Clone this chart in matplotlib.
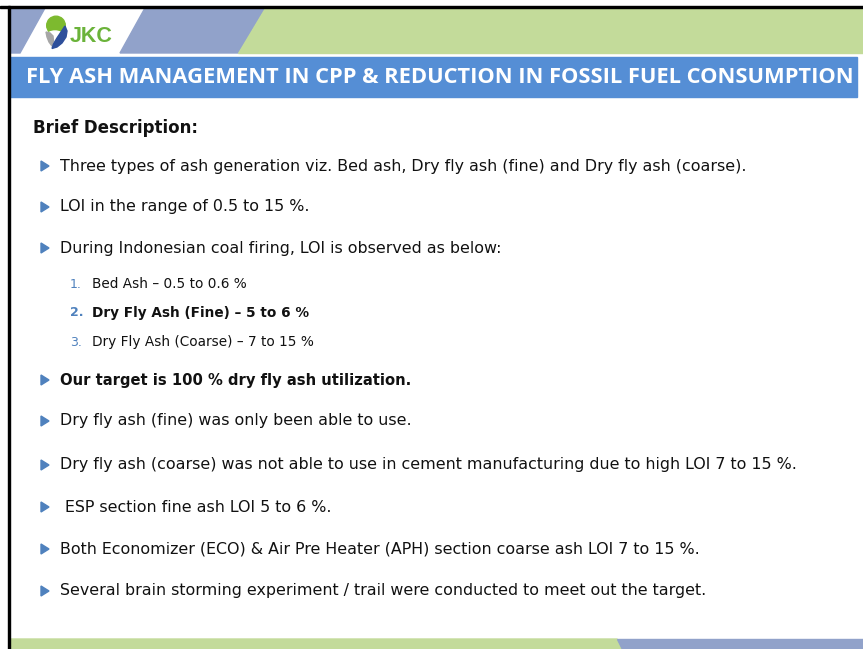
import matplotlib
matplotlib.use("Agg")
import matplotlib.pyplot as plt
from matplotlib.patches import Polygon, Rectangle, Circle, Ellipse

W, H = 863, 649

title = "FLY ASH MANAGEMENT IN CPP & REDUCTION IN FOSSIL FUEL CONSUMPTION"
heading = "Brief Description:"

bullets_top = [
    "Three types of ash generation viz. Bed ash, Dry fly ash (fine) and Dry fly ash (coarse).",
    "LOI in the range of 0.5 to 15 %.",
    "During Indonesian coal firing, LOI is observed as below:",
]
sub_items = [
    "Bed Ash \u2013 0.5 to 0.6 %",
    "Dry Fly Ash (Fine) \u2013 5 to 6 %",
    "Dry Fly Ash (Coarse) \u2013 7 to 15 %",
]
sub_bold = [False, True, False]
bullets_bottom = [
    "Our target is 100 % dry fly ash utilization.",
    "Dry fly ash (fine) was only been able to use.",
    "Dry fly ash (coarse) was not able to use in cement manufacturing due to high LOI 7 to 15 %.",
    " ESP section fine ash LOI 5 to 6 %.",
    "Both Economizer (ECO) & Air Pre Heater (APH) section coarse ash LOI 7 to 15 %.",
    "Several brain storming experiment / trail were conducted to meet out the target.",
]
bottom_bold = [True, False, False, False, False, False]

top_y = [166, 207, 248]
sub_y = [284, 313, 342]
bottom_y = [380, 421, 465, 507, 549, 591]

green = "#C3DB9A"
slate = "#91A2CA"
title_blue = "#558ED5"
bullet_blue = "#4F81BD"

fig = plt.figure(figsize=(W / 100, H / 100), dpi=100)
ax = fig.add_axes([0, 0, 1, 1])
ax.set_xlim(0, W)
ax.set_ylim(H, 0)
ax.axis("off")

# frame lines
ax.add_patch(Rectangle((0, 0), W, H, color="white", zorder=0))
ax.add_patch(Rectangle((0, 5.5), W, 2.5, color="black", zorder=5))
ax.add_patch(Rectangle((8, 5.5), 2.2, H, color="black", zorder=5))

# header stripes
ax.add_patch(Polygon([(10, 8), (45, 8), (20, 53), (10, 53)], color=slate))
ax.add_patch(Polygon([(145, 8), (265, 8), (238, 53), (120, 53)], color=slate))
ax.add_patch(Polygon([(265, 8), (W, 8), (W, 53), (238, 53)], color=green))

# title band
ax.add_patch(Rectangle((10, 57), 847, 40, color=title_blue))
ax.text(439.5, 77.5, title, color="white", fontsize=15.75, fontweight="bold",
        family="Open Sans", ha="center", va="center")

# logo
ax.add_patch(Circle((56, 25.5), 9.3, color="#7DBA2F"))
ax.add_patch(Ellipse((55, 35.5), 16, 9, color="white"))
ax.add_patch(Polygon([(46, 32), (50, 33), (53, 36), (53.5, 41), (52, 46),
                      (49, 42), (47, 37)], color="#A6A6A6"))
ax.add_patch(Polygon([(65, 26), (67, 31), (66, 37), (62, 43), (57, 47), (52, 48.5),
                      (53.5, 44), (57, 38), (61, 32)], color="#2E4F9B"))
ax.text(70, 36.5, "JKC", color="#6BB33A", fontsize=15.5, fontweight="bold",
        family="Liberation Sans", ha="left", va="center")

# body
body_font = "DejaVu Sans"
ax.text(33, 128, heading, fontsize=12, fontweight="bold", family=body_font,
        va="center", color="#111111")


def bullet(y):
    ax.add_patch(Polygon([(41, y - 5), (49, y), (41, y + 5)], color=bullet_blue))


for txt, y in zip(bullets_top, top_y):
    bullet(y)
    ax.text(60, y, txt, fontsize=11.4, family=body_font, va="center", color="#111111")

for i, (txt, y, b) in enumerate(zip(sub_items, sub_y, sub_bold)):
    ax.text(70, y, f"{i + 1}.", fontsize=9, family=body_font, va="center",
            color=bullet_blue, fontweight="bold" if b else "normal")
    ax.text(92, y, txt, fontsize=9.8, family=body_font, va="center", color="#111111",
            fontweight="bold" if b else "normal")

for txt, y, b in zip(bullets_bottom, bottom_y, bottom_bold):
    bullet(y)
    ax.text(60, y, txt, fontsize=10.6 if b else 11.4, family=body_font, va="center",
            color="#111111", fontweight="bold" if b else "normal")

# footer band
ax.add_patch(Polygon([(10, 639), (617, 639), (622, H), (10, H)], color=green))
ax.add_patch(Polygon([(617, 639), (W, 639), (W, H), (622, H)], color=slate))

fig.savefig("out.png", dpi=100)
